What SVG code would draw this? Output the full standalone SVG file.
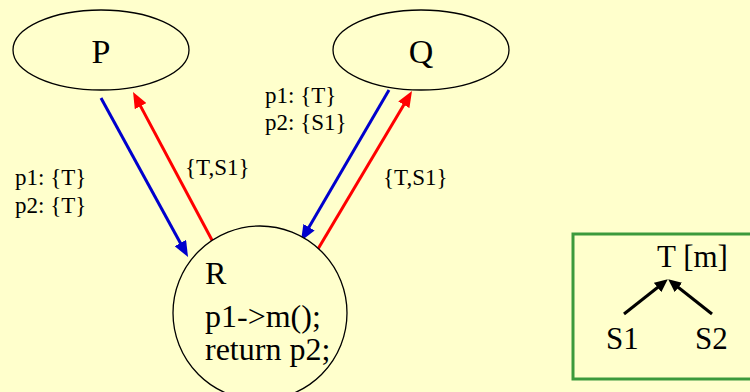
<svg xmlns="http://www.w3.org/2000/svg" width="750" height="392" viewBox="0 0 750 392">
<defs>
<style>
.node{fill:#FFFFCC;stroke:#000;stroke-width:1.3}
text{font-family:'Liberation Serif','Times New Roman',Times,'DejaVu Serif',serif;fill:#000}
.big{font-size:34px}
.leg{font-size:31px}
.code{font-size:32px}
.lbl{font-size:23px}
.blue{stroke:#0000CC;stroke-width:3;fill:none}
.red{stroke:#FF0000;stroke-width:3;fill:none}
.blk{stroke:#000;stroke-width:3;fill:none}
</style>
<marker id="ab" markerUnits="userSpaceOnUse" markerWidth="16" markerHeight="13" refX="8" refY="6.5" orient="auto"><path d="M0,0 L16,6.5 L0,13 z" fill="#0000CC"/></marker>
<marker id="ar" markerUnits="userSpaceOnUse" markerWidth="16" markerHeight="13" refX="8" refY="6.5" orient="auto"><path d="M0,0 L16,6.5 L0,13 z" fill="#FF0000"/></marker>
<marker id="ak" markerUnits="userSpaceOnUse" markerWidth="13" markerHeight="12" refX="6" refY="6" orient="auto"><path d="M0,0 L13,6 L0,12 z" fill="#000"/></marker>
</defs>
<rect width="750" height="392" fill="#FFFFCC"/>
<g id="connectors">
<line class="blue" x1="101" y1="98" x2="184.2" y2="250" marker-end="url(#ab)"/>
<line class="red" x1="213" y1="242" x2="136.8" y2="99.1" marker-end="url(#ar)"/>
<line class="blue" x1="389" y1="90" x2="305" y2="234.1" marker-end="url(#ab)"/>
<line class="red" x1="318" y1="249" x2="407.9" y2="97.9" marker-end="url(#ar)"/>
<line class="blk" x1="624" y1="314" x2="662.3" y2="283.7" marker-end="url(#ak)"/>
<line class="blk" x1="712" y1="314" x2="673.7" y2="283.7" marker-end="url(#ak)"/>
</g>
<g id="labels">
<text class="lbl" x="15" y="185">p1: {T}</text>
<text class="lbl" x="15" y="213">p2: {T}</text>
<text class="lbl" x="185" y="175">{T,S1}</text>
<text class="lbl" x="265" y="103">p1: {T}</text>
<text class="lbl" x="265" y="130">p2: {S1}</text>
<text class="lbl" x="383" y="185">{T,S1}</text>
</g>
<g id="P">
<ellipse class="node" cx="101" cy="50" rx="88" ry="40"/>
<text class="big" x="101" y="63" text-anchor="middle">P</text>
</g>
<g id="Q">
<ellipse class="node" cx="421" cy="50" rx="88" ry="40"/>
<text class="big" x="421" y="63" text-anchor="middle">Q</text>
</g>
<g id="R">
<ellipse class="node" cx="260" cy="313" rx="87" ry="87"/>
<text class="code" x="205" y="284">R</text>
<text class="code" x="205" y="327">p1-&gt;m();</text>
<text class="code" x="205" y="360">return p2;</text>
</g>
<g id="legend">
<rect x="573" y="234" width="190" height="145" fill="none" stroke="#3C9A3C" stroke-width="3"/>
<text class="leg" x="657" y="267">T [m]</text>
<text class="leg" x="606" y="349">S1</text>
<text class="leg" x="695" y="349">S2</text>
</g>
</svg>
